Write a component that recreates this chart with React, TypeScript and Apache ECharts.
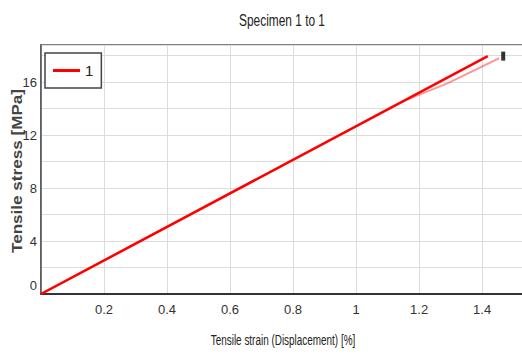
import React, { useEffect, useRef } from "react";
import * as echarts from "echarts";

const titleText = "Specimen 1 to 1";
const xAxisName = "Tensile strain (Displacement) [%]";
const yAxisName = "Tensile stress [MPa]";
const seriesName = "1";

const strainMain = [0, 1.418];
const stressMain = [0, 17.96];
const strainFade = [0, 1.15, 1.29, 1.454];
const stressFade = [0, 14.56, 15.9, 17.8];
const breakStrain = [1.467];
const breakStress = [17.96];

const zip = (xs: number[], ys: number[]) => xs.map((x, i) => [x, ys[i]]);

const sans = "'Liberation Sans', Arial, sans-serif";

export default function App() {
  const ref = useRef<HTMLDivElement>(null);
  useEffect(() => {
    if (!ref.current) return;
    const chart = echarts.init(ref.current, null, { renderer: "svg" });
    chart.setOption({
      animation: false,
      backgroundColor: "#ffffff",
      graphic: [
        {
          type: "text",
          x: 282,
          y: 20,
          scaleX: 0.7,
          style: {
            text: titleText,
            fontFamily: sans,
            fontSize: 17,
            fill: "#222",
            align: "center",
            verticalAlign: "middle",
          },
        },
        {
          type: "text",
          x: 283,
          y: 340,
          scaleX: 0.71,
          style: {
            text: xAxisName,
            fontFamily: sans,
            fontSize: 14,
            fill: "#222",
            align: "center",
            verticalAlign: "middle",
          },
        },
        {
          type: "text",
          x: 17,
          y: 171,
          rotation: Math.PI / 2,
          scaleX: 1.07,
          scaleY: 0.9,
          style: {
            text: yAxisName,
            fontFamily: sans,
            fontSize: 16,
            fontWeight: "bold",
            fill: "#444",
            align: "center",
            verticalAlign: "middle",
          },
        },
      ],
      legend: {
        left: 45,
        top: 53,
        orient: "vertical",
        data: [{ name: seriesName, icon: "rect" }],
        itemWidth: 27,
        itemHeight: 3,
        itemGap: 4,
        padding: [10, 8, 10, 8],
        borderColor: "#444",
        borderWidth: 1.5,
        backgroundColor: "#fff",
        textStyle: { fontFamily: sans, fontSize: 15, color: "#222" },
      },
      grid: {
        left: 41,
        right: -2,
        top: 45,
        bottom: 62,
        outerBoundsMode: "none",
        containLabel: false,
        show: true,
        borderColor: "#555",
        borderWidth: 1.5,
      },
      xAxis: {
        type: "value",
        min: 0,
        max: 1.533,
        interval: 0.2,
        axisLine: { show: true, onZero: false, lineStyle: { color: "#333", width: 2 } },
        axisTick: { show: false },
        splitLine: { show: true, lineStyle: { color: "#dcdcdc", width: 1 } },
        axisLabel: {
          margin: 9,
          fontFamily: sans,
          fontSize: 13,
          color: "#333",
          showMaxLabel: false,
          formatter: (v: number) => {
            const r = Math.round(v * 10) / 10;
            if (r === 0 || Math.abs(v - r) > 1e-6) return "";
            return String(r);
          },
        },
      },
      yAxis: {
        type: "value",
        min: 0,
        max: 18.8,
        interval: 2,
        axisLine: { show: true, lineStyle: { color: "#555", width: 1.5 } },
        axisTick: { show: false },
        splitLine: { show: true, lineStyle: { color: "#dcdcdc", width: 1 } },
        axisLabel: {
          margin: 4,
          fontFamily: sans,
          fontSize: 13,
          color: "#333",
          showMaxLabel: false,
          formatter: (v: number) => {
            if (v === 0) return "{z|0}";
            return Math.abs(v % 4) < 1e-6 ? String(v) : "";
          },
          rich: {
            z: { fontFamily: sans, fontSize: 13, color: "#333", padding: [0, 0, 18, 0] },
          },
        },
      },
      series: [
        {
          name: "fade",
          type: "line",
          data: zip(strainFade, stressFade),
          showSymbol: false,
          symbol: "none",
          lineStyle: { color: "rgba(255,70,70,0.55)", width: 2 },
          z: 2,
        },
        {
          name: seriesName,
          type: "line",
          data: zip(strainMain, stressMain),
          showSymbol: false,
          symbol: "none",
          itemStyle: { color: "#ff0000" },
          lineStyle: { color: "#ff0000", width: 2.5 },
          z: 3,
        },
        {
          name: "break",
          type: "scatter",
          data: zip(breakStrain, breakStress),
          symbol: "rect",
          symbolSize: [4, 9],
          itemStyle: { color: "#000" },
          z: 4,
        },
      ],
    });
    return () => chart.dispose();
  }, []);
  return (
    <div
      ref={ref}
      style={{ position: "absolute", left: 0, top: 0, width: 522, height: 356 }}
    />
  );
}
